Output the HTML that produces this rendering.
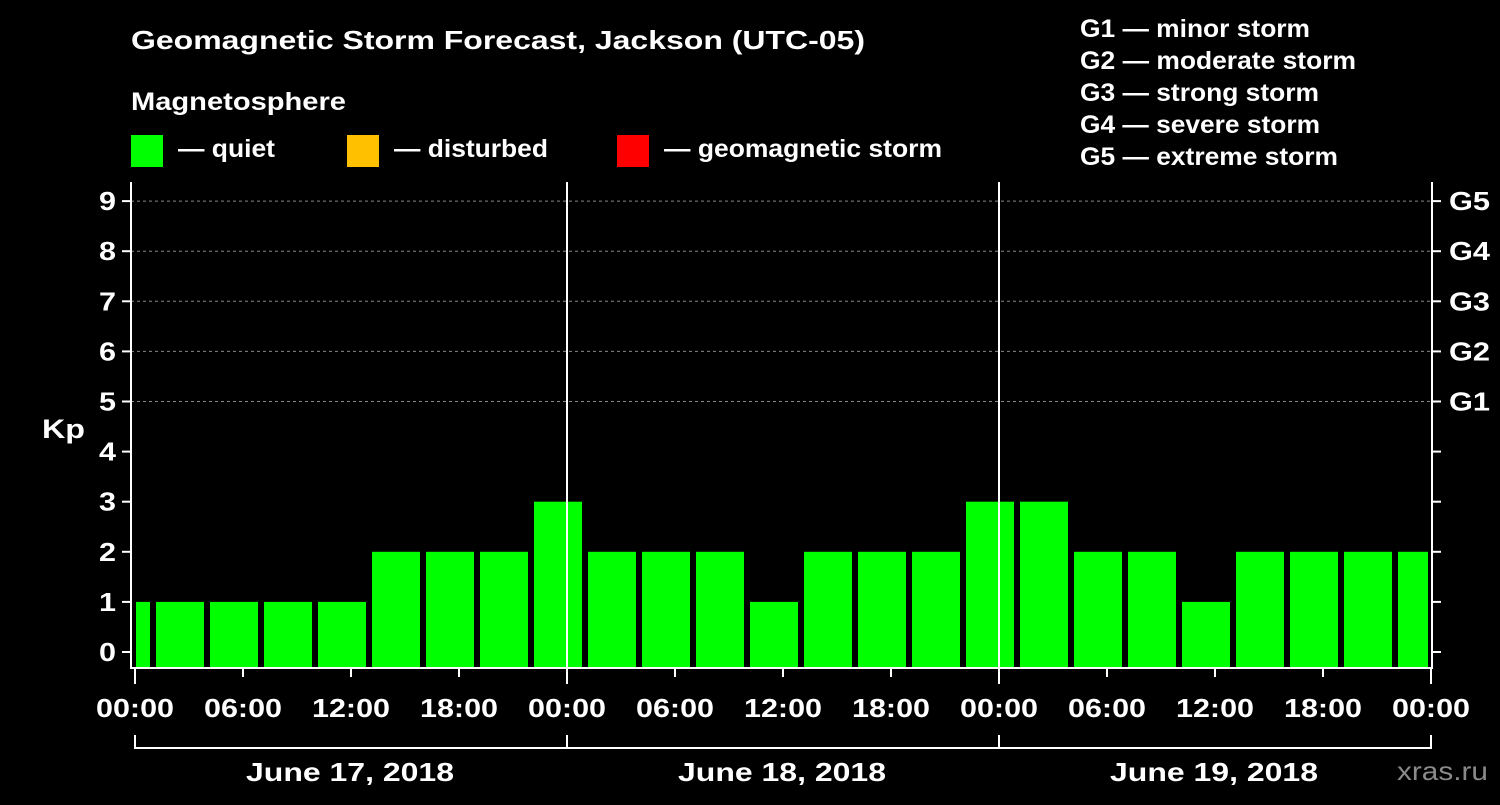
<!DOCTYPE html>
<html><head><meta charset="utf-8"><style>
body{margin:0;background:#000;width:1500px;height:800px;overflow:hidden}
svg text{font-family:"Liberation Sans",sans-serif;font-weight:bold;fill:#fff}
</style></head><body>
<svg id="c" width="1500" height="800">
<text x="131" y="49" font-size="26" textLength="734" lengthAdjust="spacingAndGlyphs">Geomagnetic Storm Forecast, Jackson (UTC-05)</text>
<text x="131" y="110" font-size="25" textLength="215" lengthAdjust="spacingAndGlyphs">Magnetosphere</text>
<rect x="131" y="135" width="32" height="32" fill="#00ff00"/>
<text x="178" y="157" font-size="25" textLength="97" lengthAdjust="spacingAndGlyphs">— quiet</text>
<rect x="347" y="135" width="32" height="32" fill="#ffc000"/>
<text x="394" y="157" font-size="25" textLength="154" lengthAdjust="spacingAndGlyphs">— disturbed</text>
<rect x="617" y="135" width="32" height="32" fill="#ff0000"/>
<text x="664" y="157" font-size="25" textLength="278" lengthAdjust="spacingAndGlyphs">— geomagnetic storm</text>
<g font-size="25">
<text x="1080" y="37" textLength="230" lengthAdjust="spacingAndGlyphs">G1 — minor storm</text>
<text x="1080" y="69" textLength="276" lengthAdjust="spacingAndGlyphs">G2 — moderate storm</text>
<text x="1080" y="101" textLength="239" lengthAdjust="spacingAndGlyphs">G3 — strong storm</text>
<text x="1080" y="133" textLength="240" lengthAdjust="spacingAndGlyphs">G4 — severe storm</text>
<text x="1080" y="165" textLength="258" lengthAdjust="spacingAndGlyphs">G5 — extreme storm</text>
</g>
<text x="42" y="438" font-size="27" textLength="43" lengthAdjust="spacingAndGlyphs">Kp</text>
<text x="1397" y="780" font-size="26" textLength="91" lengthAdjust="spacingAndGlyphs" style="fill:#8a8a8a;font-weight:normal">xras.ru</text>
<g id="grid"></g><g id="bars"></g><g id="axes"></g>
</svg>
<script>
const dayLabels=["June 17, 2018","June 18, 2018","June 19, 2018"];
const slotStartHours=[-2,1,4,7,10,13,16,19,22,25,28,31,34,37,40,43,46,49,52,55,58,61,64,67,70];
const kpValues=[1,1,1,1,1,2,2,2,3,2,2,2,1,2,2,2,3,3,2,2,1,2,2,2,2];
const timeTickLabels=["00:00","06:00","12:00","18:00","00:00","06:00","12:00","18:00","00:00","06:00","12:00","18:00","00:00"];
const gLabels=["G1","G2","G3","G4","G5"];
const NS="http://www.w3.org/2000/svg";
const L=131,R=1432,T=182,B=668;
const X=h=>135+18*h, Y=v=>652-50.1*v;
function mk(p,tag,a){const e=document.createElementNS(NS,tag);for(const k in a)e.setAttribute(k,a[k]);document.getElementById(p).appendChild(e);return e;}
for(let v=5;v<=9;v++){const e=mk("grid","line",{x1:L,x2:R,y1:Y(v),y2:Y(v),stroke:"#888","stroke-dasharray":"3,3","stroke-width":1});

}
slotStartHours.forEach((h,i)=>{let x0=Math.max(X(h)+3,136),x1=Math.min(X(h+3)-3,1428);const v=kpValues[i];
const c=v>=5?"#ff0000":v>=4?"#ffc000":"#00ff00";
const e=mk("bars","rect",{x:x0,y:Y(v),width:x1-x0,height:B-Y(v),fill:c});

});
const ax=(a)=>{const e=mk("axes","line",Object.assign({stroke:"#fff","stroke-width":2},a));};
ax({x1:L,x2:L,y1:T,y2:B+1});ax({x1:R,x2:R,y1:T,y2:B+1});ax({x1:L,x2:R,y1:B,y2:B});
for(let d=1;d<3;d++)ax({x1:X(24*d),x2:X(24*d),y1:T,y2:B});
for(let v=0;v<=9;v++){ax({x1:122,x2:L,y1:Y(v),y2:Y(v)});ax({x1:R,x2:1441,y1:Y(v),y2:Y(v)});
const t=mk("axes","text",{x:116,y:Y(v)+9,"font-size":26,"text-anchor":"end",textLength:17,lengthAdjust:"spacingAndGlyphs"});t.textContent=v;

}
gLabels.forEach((g,i)=>{const t=mk("axes","text",{x:1449,y:Y(5+i)+9,"font-size":26,textLength:41,lengthAdjust:"spacingAndGlyphs"});t.textContent=g;

});
for(let h=0;h<=72;h+=3){const major=h%6==0;ax({x1:X(h),x2:X(h),y1:B,y2:B+(major?(h%24==0?16:9):0)});}
timeTickLabels.forEach((s,i)=>{const t=mk("axes","text",{x:X(6*i)-39,y:717,"font-size":26,textLength:78,lengthAdjust:"spacingAndGlyphs"});t.textContent=s;

});
ax({x1:X(0),x2:X(72),y1:748,y2:748});
for(let d=0;d<=3;d++)ax({x1:X(24*d),x2:X(24*d),y1:735,y2:749});
dayLabels.forEach((s,i)=>{const t=mk("axes","text",{x:X(24*i+12)-105,y:781,"font-size":26,textLength:208,lengthAdjust:"spacingAndGlyphs"});t.textContent=s;

});
</script>
</body></html>
